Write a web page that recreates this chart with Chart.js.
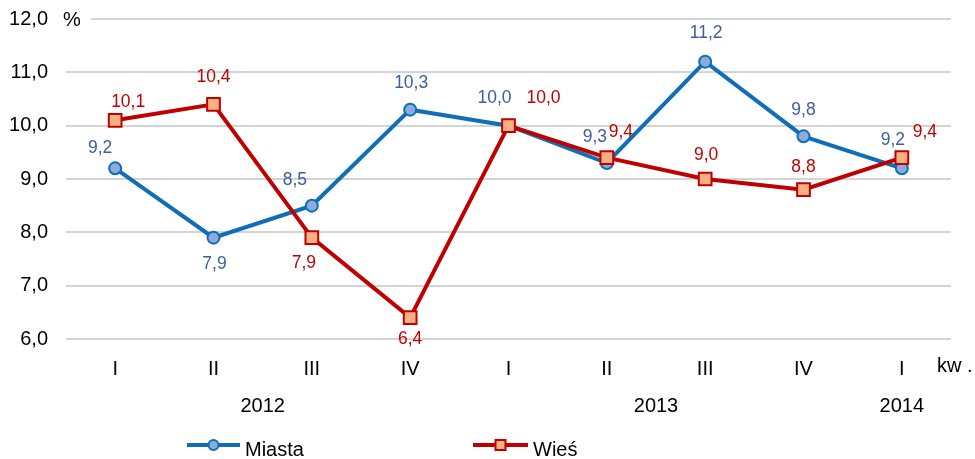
<!DOCTYPE html>
<html>
<head>
<meta charset="utf-8">
<script src="https://cdn.jsdelivr.net/npm/chart.js@4.4.1/dist/chart.umd.min.js"></script>
<style>
  html, body { margin: 0; padding: 0; background: #ffffff; }
  #wrap { width: 975px; height: 459px; }
</style>
</head>
<body>
<div id="wrap"><canvas id="c" width="975" height="459"></canvas></div>
<script>
// ---- data ----
const quarters = ['I', 'II', 'III', 'IV', 'I', 'II', 'III', 'IV', 'I'];
const years = ['2012', '2013', '2014'];
const yearStartIndex = [0, 4, 8];
const miasta = [9.2, 7.9, 8.5, 10.3, 10.0, 9.3, 11.2, 9.8, 9.2];
const wies = [10.1, 10.4, 7.9, 6.4, 10.0, 9.4, 9.0, 8.8, 9.4];
const seriesNames = ['Miasta', 'Wieś'];

// ---- styling ----
const BLUE = '#0e6eb8';
const BLUE_FILL = '#8eaadc';
const BLUE_TEXT = '#3d5d9e';
const RED = '#c00000';
const RED_FILL = '#f5b183';
const RED_TEXT = '#c00000';
const FONT = '"Liberation Sans", Arial, sans-serif';
const AXIS_PX = 20;
const LABEL_PX = 17.5;

// label offsets (dx, dy) relative to each point
const offMiasta = [[-15,-20],[1,27],[-17,-25],[1,-26],[-14,-27],[-12,-26],[1,-28],[0,-26],[-9,-28]];
const offWies   = [[13,-18],[0,-27],[-8,26],[0,22],[35,-27],[14,-25],[1,-24],[0,-22],[23,-25]];

function fmt(v) { return v.toFixed(1).replace('.', ','); }

const extras = {
  id: 'extras',
  afterDatasetsDraw(chart) {
    const ctx = chart.ctx;
    const xs = chart.scales.x;
    const ys = chart.scales.y;
    ctx.save();
    // data labels
    ctx.font = LABEL_PX + 'px ' + FONT;
    ctx.textAlign = 'center';
    ctx.textBaseline = 'middle';
    const sets = [[miasta, offMiasta, BLUE_TEXT], [wies, offWies, RED_TEXT]];
    sets.forEach(([vals, offs, col]) => {
      ctx.fillStyle = col;
      vals.forEach((v, i) => {
        const x = xs.getPixelForValue(i) + offs[i][0];
        const y = ys.getPixelForValue(v) + offs[i][1];
        ctx.fillText(fmt(v), x, y);
      });
    });
    // % unit
    ctx.fillStyle = '#ffffff';
    ctx.fillRect(chart.chartArea.left - 4, ys.getPixelForValue(12) - 3, 29, 6);
    ctx.fillStyle = '#000000';
    ctx.font = AXIS_PX + 'px ' + FONT;
    ctx.textAlign = 'left';
    ctx.fillText('%', chart.chartArea.left - 3, ys.getPixelForValue(12) + 1);
    // kw .
    ctx.fillText('kw .', 937, 366);
    // year labels
    ctx.textAlign = 'center';
    years.forEach((yr, k) => {
      const s = yearStartIndex[k];
      const e = k + 1 < yearStartIndex.length ? yearStartIndex[k + 1] - 1 : quarters.length - 1;
      const mid = (xs.getPixelForValue(s) + xs.getPixelForValue(e)) / 2;
      ctx.fillText(yr, mid, 406);
    });
    // legend
    const legendItems = [
      { name: seriesNames[0], x0: 187, x1: 240, col: BLUE, fill: BLUE_FILL, shape: 'circle' },
      { name: seriesNames[1], x0: 473, x1: 528, col: RED, fill: RED_FILL, shape: 'square' }
    ];
    legendItems.forEach(it => {
      const ly = 445;
      ctx.strokeStyle = it.col;
      ctx.lineWidth = 4;
      ctx.beginPath();
      ctx.moveTo(it.x0, ly);
      ctx.lineTo(it.x1, ly);
      ctx.stroke();
      const mx = (it.x0 + it.x1) / 2;
      ctx.fillStyle = it.fill;
      ctx.lineWidth = 2;
      ctx.beginPath();
      if (it.shape === 'circle') {
        ctx.arc(mx, ly, 5, 0, Math.PI * 2);
      } else {
        ctx.rect(mx - 5, ly - 5, 10, 10);
      }
      ctx.fill();
      ctx.stroke();
      ctx.fillStyle = '#000000';
      ctx.textAlign = 'left';
      ctx.font = AXIS_PX + 'px ' + FONT;
      ctx.fillText(it.name, it.x1 + 5, 450);
    });
    ctx.restore();
  }
};

new Chart(document.getElementById('c'), {
  type: 'line',
  data: {
    labels: quarters,
    datasets: [
      {
        label: seriesNames[0],
        data: miasta,
        order: 2,
        borderColor: BLUE,
        backgroundColor: BLUE_FILL,
        borderWidth: 4,
        pointStyle: 'circle',
        pointRadius: 6,
        pointBorderWidth: 2,
        pointBorderColor: BLUE,
        pointBackgroundColor: BLUE_FILL,
        tension: 0
      },
      {
        label: seriesNames[1],
        data: wies,
        order: 1,
        borderColor: RED,
        backgroundColor: RED_FILL,
        borderWidth: 4,
        pointStyle: 'rect',
        pointRadius: 9,
        pointBorderWidth: 2,
        pointBorderColor: RED,
        pointBackgroundColor: RED_FILL,
        tension: 0
      }
    ]
  },
  options: {
    responsive: false,
    animation: false,
    devicePixelRatio: 1,
    layout: { padding: { left: 0, right: 24, top: 19, bottom: 0 } },
    plugins: { legend: { display: false }, tooltip: { enabled: false } },
    scales: {
      x: {
        offset: true,
        grid: { display: false },
        border: { display: false },
        ticks: { color: '#000000', font: { size: AXIS_PX, family: FONT }, padding: 10, maxRotation: 0, autoSkip: false },
        afterFit(scale) { scale.height = 120; }
      },
      y: {
        min: 6,
        max: 12,
        grid: { color: '#d4d4d4', lineWidth: 2, drawTicks: false },
        border: { display: false },
        ticks: {
          stepSize: 1,
          color: '#000000',
          font: { size: AXIS_PX, family: FONT },
          padding: 18,
          callback: (v) => fmt(v)
        },
        afterFit(scale) { scale.width = 66; scale.paddingTop = 0; scale.paddingBottom = 0; }
      }
    }
  },
  plugins: [extras]
});
</script>
</body>
</html>
